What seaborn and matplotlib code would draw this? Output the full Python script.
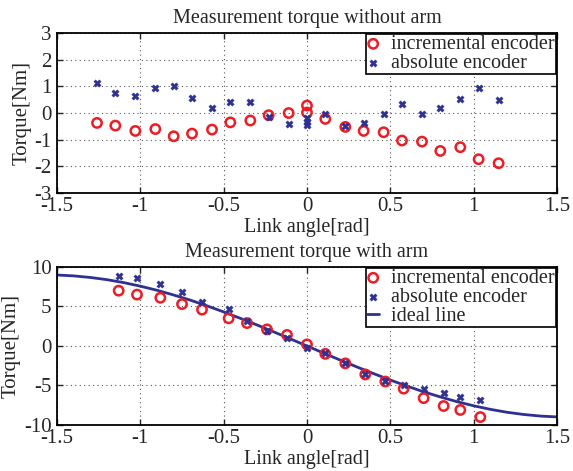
import numpy as np
import pandas as pd
import matplotlib
matplotlib.use("Agg")
import matplotlib.pyplot as plt
import seaborn as sns

# top panel: without arm
angle_top = [-1.26, -1.15, -1.03, -0.91, -0.80, -0.69, -0.57, -0.46, -0.34, -0.23, -0.11,
             0.0, 0.0, 0.11, 0.23, 0.34, 0.46, 0.57, 0.69, 0.80, 0.92, 1.03, 1.15]
inc_top = [-0.37, -0.47, -0.67, -0.60, -0.87, -0.77, -0.62, -0.35, -0.28, -0.08, 0.0,
           0.28, 0.02, -0.22, -0.52, -0.67, -0.72, -1.03, -1.07, -1.42, -1.28, -1.73, -1.88]
abs_angle_top = [-1.26, -1.15, -1.03, -0.91, -0.80, -0.69, -0.57, -0.46, -0.34, -0.23, -0.11,
                 0.0, 0.0, 0.0, 0.11, 0.23, 0.34, 0.46, 0.57, 0.69, 0.80, 0.92, 1.03, 1.15]
abs_top = [1.12, 0.75, 0.65, 0.93, 1.00, 0.55, 0.18, 0.43, 0.42, -0.13, -0.42,
           -0.20, -0.33, -0.45, -0.02, -0.48, -0.38, -0.03, 0.33, -0.02, 0.18, 0.53, 0.92, 0.50]

# bottom panel: with arm
angle_bot = [-1.13, -1.02, -0.88, -0.75, -0.63, -0.47, -0.36, -0.24, -0.12, 0.0,
             0.11, 0.23, 0.35, 0.47, 0.58, 0.70, 0.82, 0.92, 1.04]
inc_bot = [7.0, 6.5, 6.1, 5.3, 4.6, 3.5, 2.9, 2.1, 1.4, 0.2,
           -1.0, -2.2, -3.6, -4.5, -5.4, -6.6, -7.6, -8.1, -9.0]
abs_bot = [8.9, 8.6, 7.8, 6.8, 5.6, 4.7, 3.1, 1.9, 1.0, -0.2,
           -0.9, -2.1, -3.6, -4.4, -4.9, -5.5, -6.0, -6.4, -6.8]

# ideal line
ideal_x = [-1.5, -1.4, -1.3, -1.2, -1.1, -1.0, -0.9, -0.8, -0.7, -0.6, -0.5, -0.4, -0.3, -0.2, -0.1,
           0.0, 0.1, 0.2, 0.3, 0.4, 0.5, 0.6, 0.7, 0.8, 0.9, 1.0, 1.1, 1.2, 1.3, 1.4, 1.5]
ideal_y = [8.98, 8.87, 8.67, 8.39, 8.02, 7.57, 7.05, 6.45, 5.80, 5.08, 4.31, 3.50, 2.66, 1.79, 0.90,
           0.0, -0.90, -1.79, -2.66, -3.50, -4.31, -5.08, -5.80, -6.45, -7.05, -7.57, -8.02, -8.39,
           -8.67, -8.87, -8.98]

xticks = [-1.5, -1, -0.5, 0, 0.5, 1, 1.5]
xticklabels = ["-1.5", "-1", "-0.5", "0", "0.5", "1", "1.5"]

sns.set_style("ticks")
plt.rcParams["font.family"] = ["Liberation Serif", "DejaVu Serif"]

red = "#ee1c25"
blue = "#2e3192"

fig = plt.figure(figsize=(5.73, 4.71), dpi=100)
ax_top = fig.add_axes([0.0995, 0.590, 0.8725, 0.340])
ax_bot = fig.add_axes([0.0995, 0.0977, 0.8725, 0.3355])

def style(ax, ylim, yticks, title):
    ax.set_xlim(-1.5, 1.5)
    ax.set_ylim(*ylim)
    ax.set_xticks(xticks)
    ax.set_xticklabels(xticklabels)
    ax.set_yticks(yticks)
    ax.set_yticklabels([str(t) for t in yticks])
    ax.grid(True, linestyle=(0, (1, 3)), color="#555555", linewidth=0.8)
    ax.tick_params(axis="x", direction="in", length=4, width=1, labelsize=15, pad=3,
                   top=True)
    ax.tick_params(axis="y", direction="in", length=4, width=1, labelsize=15, pad=4,
                   right=True)
    for s in ax.spines.values():
        s.set_visible(True)
        s.set_linewidth(1.3)
        s.set_color("black")
    ax.set_xlabel("Link angle[rad]", fontsize=14.5, labelpad=1)
    ax.set_ylabel("Torque[Nm]", fontsize=15, labelpad=2)
    ax.set_title(title, fontsize=14.5, pad=7)

def legend(ax):
    leg = ax.legend(loc="upper right", fontsize=14.5, frameon=True, fancybox=False,
                    borderpad=0.05, handletextpad=0.6, labelspacing=0.0,
                    borderaxespad=0.05, handlelength=0.6, framealpha=1)
    leg.get_frame().set_edgecolor("black")
    leg.get_frame().set_linewidth(1.2)

df_inc = pd.DataFrame({"angle": angle_top, "torque": inc_top})
df_abs = pd.DataFrame({"angle": abs_angle_top, "torque": abs_top})
sns.scatterplot(data=df_inc, x="angle", y="torque", ax=ax_top, marker="o", s=45,
                facecolor="none", edgecolor=red, linewidth=1.8, label="incremental encoder", zorder=3)
sns.scatterplot(data=df_abs, x="angle", y="torque", ax=ax_top, marker="X", s=28,
                color=blue, edgecolor=blue, linewidth=0.3, label="absolute encoder", zorder=3)
style(ax_top, (-3, 3), [-3, -2, -1, 0, 1, 2, 3], "Measurement torque without arm")
legend(ax_top)

df_inc2 = pd.DataFrame({"angle": angle_bot, "torque": inc_bot})
df_abs2 = pd.DataFrame({"angle": angle_bot, "torque": abs_bot})
df_ideal = pd.DataFrame({"angle": ideal_x, "torque": ideal_y})
sns.scatterplot(data=df_inc2, x="angle", y="torque", ax=ax_bot, marker="o", s=45,
                facecolor="none", edgecolor=red, linewidth=1.8, label="incremental encoder", zorder=3)
sns.scatterplot(data=df_abs2, x="angle", y="torque", ax=ax_bot, marker="X", s=28,
                color=blue, edgecolor=blue, linewidth=0.3, label="absolute encoder", zorder=3)
sns.lineplot(data=df_ideal, x="angle", y="torque", ax=ax_bot, color=blue, linewidth=2,
             label="ideal line", zorder=2)
style(ax_bot, (-10, 10), [-10, -5, 0, 5, 10], "Measurement torque with arm")
legend(ax_bot)

fig.savefig("out.png", dpi=100)
